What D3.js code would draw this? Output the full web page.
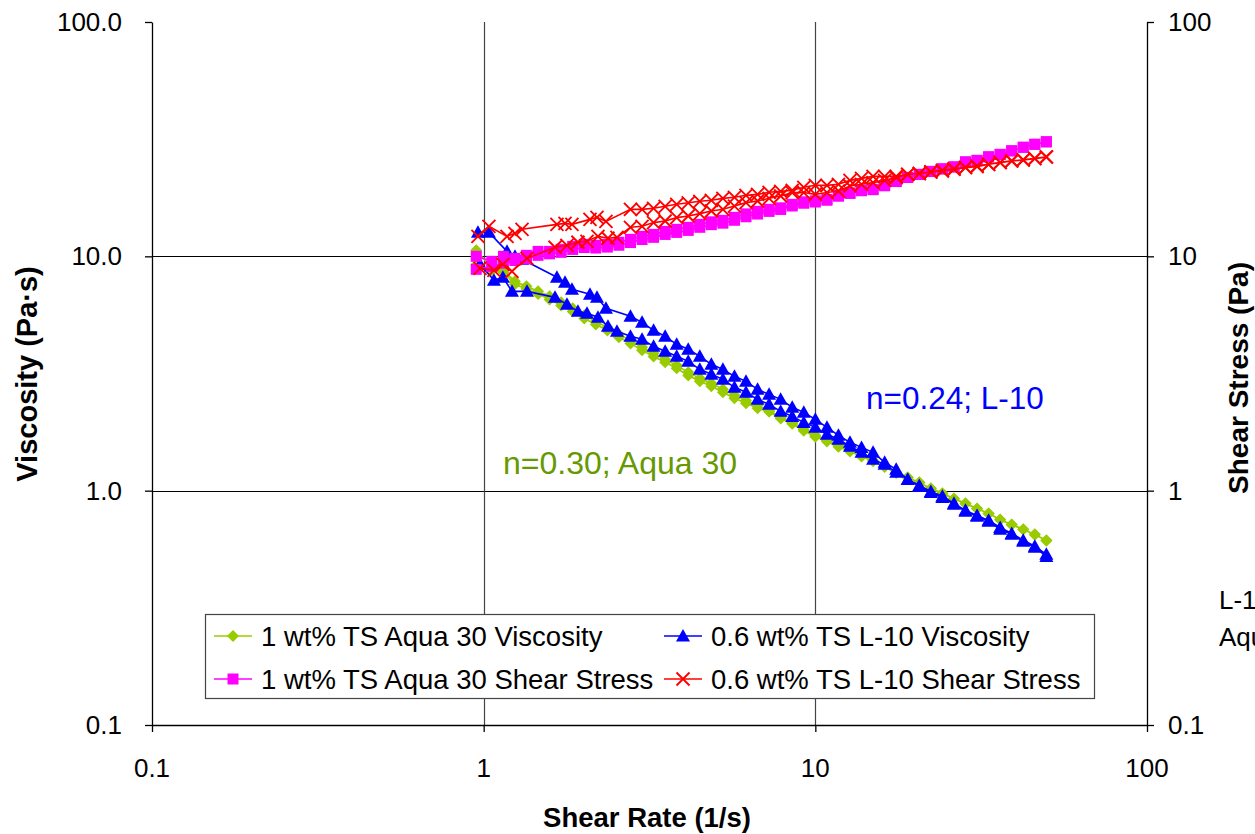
<!DOCTYPE html>
<html>
<head>
<meta charset="utf-8">
<script src="https://cdn.jsdelivr.net/npm/d3@7"></script>
<style>
  html, body { margin: 0; padding: 0; background: #fff; }
  svg { display: block; font-family: "Liberation Sans", Arial, sans-serif; }
</style>
</head>
<body>
<div id="chart"></div>
<script>
// ---- data ----
// Aqua 30: shared shear rates (1/s) for the up and the down sweep
const aquaRate = [0.95, 1.058, 1.147, 1.242, 1.346, 1.459, 1.580, 1.712, 1.855, 2.010,
  2.178, 2.360, 2.557, 2.771, 3.003, 3.253, 3.525, 3.819, 4.138, 4.484,
  4.858, 5.264, 5.704, 6.180, 6.696, 7.255, 7.861, 8.518, 9.229, 10.0,
  10.84, 11.74, 12.72, 13.78, 14.93, 16.18, 17.53, 18.99, 20.58, 22.30,
  24.16, 26.18, 28.36, 30.73, 33.30, 36.08, 39.09, 42.35, 45.89, 49.72];

const aquaViscUp = [10.61, 8.889, 8.715, 7.822, 7.447, 7.089, 6.750, 6.363, 6.001, 5.601,
  5.281, 4.977, 4.647, 4.381, 4.089, 3.855, 3.634, 3.426, 3.198, 3.015,
  2.871, 2.707, 2.552, 2.428, 2.312, 2.201, 2.055, 1.956, 1.826, 1.722,
  1.639, 1.561, 1.486, 1.415, 1.347, 1.270, 1.197, 1.140, 1.085, 1.023,
  0.974, 0.927, 0.883, 0.840, 0.800, 0.754, 0.718, 0.684, 0.651, 0.614];
const aquaViscDown = [9.20, 8.70, 8.55, 7.60, 7.25, 6.90, 6.55, 6.17, 5.82, 5.43,
  5.12, 4.83, 4.51, 4.25, 3.97, 3.74, 3.53, 3.33, 3.10, 2.93,
  2.79, 2.63, 2.48, 2.36, 2.25, 2.17, 2.03, 1.93, 1.80, 1.70,
  1.62, 1.54, 1.47, 1.40, 1.335, 1.262, 1.190, 1.134, 1.080, 1.019,
  0.970, 0.924, 0.880, 0.838, 0.798, 0.752, 0.716, 0.682, 0.649, 0.612];

const aquaStressUp = [10.0, 9.52, 10.0, 9.80, 10.10, 10.50, 10.50, 10.71, 11.03, 11.25,
  11.14, 11.25, 11.48, 11.82, 12.17, 12.41, 12.78, 13.04, 13.30, 13.69,
  14.04, 14.24, 14.67, 15.18, 15.56, 15.87, 16.11, 16.67, 17.08, 17.25,
  17.51, 18.21, 18.66, 19.13, 19.32, 20.09, 20.90, 21.74, 22.39, 23.06,
  23.63, 24.10, 25.31, 25.69, 26.59, 27.25, 28.21, 29.20, 30.07, 30.82];
const aquaStressDown = [8.80, 9.05, 9.35, 9.60, 9.75, 10.10, 10.25, 10.40, 10.70, 10.90,
  10.85, 10.95, 11.15, 11.45, 11.80, 12.05, 12.40, 12.65, 12.90, 13.30,
  13.65, 13.85, 14.25, 14.75, 15.15, 15.55, 15.85, 16.40, 16.85, 17.05,
  17.35, 18.05, 18.55, 19.05, 19.25, 20.0, 20.85, 21.70, 22.35, 23.0,
  23.6, 24.05, 25.25, 25.65, 26.55, 27.2, 28.2, 29.2, 30.05, 30.8];

// L-10: measured shear rates differ between the two sweeps at low rates
const l10RateUp = [0.961, 1.037, 1.176, 1.243, 1.305, 1.663, 1.759, 1.846, 2.092, 2.196,
  2.337, 2.771, 3.003, 3.253, 3.525, 3.819, 4.138, 4.484, 4.858, 5.264,
  5.704, 6.180, 6.696, 7.255, 7.861, 8.518, 9.229, 10.0, 10.84, 11.74,
  12.72, 13.78, 14.93, 16.18, 17.53, 18.99, 20.58, 22.30, 24.16, 26.18,
  28.36, 30.73, 33.30, 36.08, 39.09, 42.35, 45.89, 49.72];
const l10ViscUp = [12.66, 12.66, 10.50, 10.0, 9.71, 8.14, 7.745, 7.232, 6.884, 6.683,
  6.001, 5.546, 5.229, 4.833, 4.556, 4.211, 4.010, 3.743, 3.460, 3.294,
  3.075, 2.928, 2.707, 2.576, 2.453, 2.268, 2.159, 2.015, 1.863, 1.722,
  1.608, 1.530, 1.457, 1.321, 1.233, 1.117, 1.053, 0.993, 0.946, 0.883,
  0.824, 0.784, 0.747, 0.697, 0.657, 0.614, 0.579, 0.535];
const l10StressUp = [12.17, 13.43, 12.17, 12.54, 13.04, 13.69, 13.83, 13.69, 14.38, 14.67,
  14.10, 15.87, 15.87, 16.03, 16.35, 16.67, 16.92, 17.17, 17.34, 17.68,
  17.86, 18.21, 18.39, 18.76, 18.94, 19.13, 19.70, 20.09, 20.09, 20.29,
  21.10, 21.52, 21.94, 21.94, 21.94, 22.39, 22.61, 22.94, 23.28, 23.63,
  23.98, 24.33, 24.70, 25.18, 25.54, 25.82, 26.20, 26.59];

const l10RateDown = [0.975, 1.074, 1.143, 1.217, 1.351, 1.641, 1.783, 1.924, 2.049, 2.211,
  2.370, 2.523, 2.771, 3.003, 3.253, 3.525, 3.819, 4.138, 4.484, 4.858,
  5.264, 5.704, 6.180, 6.696, 7.255, 7.861, 8.518, 9.229, 10.0, 10.84,
  11.74, 12.72, 13.78, 14.93, 16.18, 17.53, 18.99, 20.58, 22.30, 24.16,
  26.18, 28.36, 30.73, 33.30, 36.08, 39.09, 42.35, 45.89, 49.72];
const l10ViscDown = [9.245, 7.90, 8.14, 7.089, 7.089, 6.683, 6.239, 5.826, 5.712, 5.492,
  5.027, 4.785, 4.556, 4.424, 4.130, 3.932, 3.743, 3.563, 3.294, 3.136,
  2.985, 2.760, 2.628, 2.453, 2.335, 2.180, 2.075, 1.956, 1.863, 1.739,
  1.656, 1.546, 1.457, 1.360, 1.295, 1.197, 1.117, 1.043, 0.983, 0.936,
  0.874, 0.816, 0.777, 0.740, 0.684, 0.651, 0.608, 0.573, 0.524];
const l10StressDown = [8.889, 8.715, 9.245, 8.630, 9.806, 10.93, 11.14, 11.48, 11.59, 12.17,
  11.94, 12.05, 13.30, 13.43, 13.93, 14.15, 14.63, 14.86, 15.21, 15.61,
  15.87, 16.39, 16.95, 17.22, 17.68, 18.09, 18.71, 18.71, 18.39, 18.71,
  19.00, 19.95, 20.29, 20.63, 21.10, 21.67, 22.39, 22.54, 22.90, 23.12,
  23.51, 23.90, 24.14, 24.70, 25.12, 25.51, 25.76, 26.12, 26.54];

const xTicks = [0.1, 1, 10, 100];
const yTicks = [0.1, 1, 10, 100];
const xTickLabels = ["0.1", "1", "10", "100"];
const yTickLabels = ["0.1", "1.0", "10.0", "100.0"];
const y2TickLabels = ["0.1", "1", "10", "100"];
const legendLabels = [
  "1 wt% TS Aqua 30 Viscosity", "0.6 wt% TS L-10 Viscosity",
  "1 wt% TS Aqua 30 Shear Stress", "0.6 wt% TS L-10 Shear Stress"
];

// ---- layout ----
const W = 1255, H = 834;
const M = { left: 152, right: 1147, top: 22, bottom: 725 };

const svg = d3.select("#chart").append("svg")
  .attr("width", W).attr("height", H)
  .attr("viewBox", `0 0 ${W} ${H}`);

const x = d3.scaleLog().domain([0.1, 100]).range([M.left, M.right]);
const y = d3.scaleLog().domain([0.1, 100]).range([M.bottom, M.top]);
const y2 = d3.scaleLog().domain([0.1, 100]).range([M.bottom, M.top]);

// gridlines
svg.append("g").selectAll("line").data([1, 10]).join("line")
  .attr("x1", M.left).attr("x2", M.right)
  .attr("y1", d => Math.round(y(d)) + 0.5).attr("y2", d => Math.round(y(d)) + 0.5)
  .attr("stroke", "#000").attr("stroke-width", 1);
svg.append("g").selectAll("line").data([1, 10]).join("line")
  .attr("y1", M.top).attr("y2", M.bottom)
  .attr("x1", d => Math.round(x(d)) + 0.5).attr("x2", d => Math.round(x(d)) + 0.5)
  .attr("stroke", "#444").attr("stroke-width", 1.2);

// axes (lines and ticks; labels drawn by hand below)
const axisStyle = g => {
  g.select(".domain").attr("stroke", "#000").attr("stroke-width", 1.3);
  g.selectAll(".tick line").attr("stroke", "#000").attr("stroke-width", 1.3);
  g.selectAll(".tick text").remove();
};
svg.append("g").attr("transform", `translate(0,${M.bottom})`)
  .call(d3.axisBottom(x).tickValues(xTicks).tickSize(7).tickSizeOuter(0).tickFormat(""))
  .call(axisStyle);
svg.append("g").attr("transform", `translate(${M.left},0)`)
  .call(d3.axisLeft(y).tickValues(yTicks).tickSize(7).tickSizeOuter(0).tickFormat(""))
  .call(axisStyle);
svg.append("g").attr("transform", `translate(${M.right},0)`)
  .call(d3.axisRight(y2).tickValues(yTicks).tickSize(7).tickSizeOuter(0).tickFormat(""))
  .call(axisStyle);

const tickFont = 26;
svg.append("g").selectAll("text").data(xTicks).join("text")
  .attr("x", d => x(d)).attr("y", 777)
  .attr("text-anchor", "middle").attr("font-size", tickFont)
  .text((d, i) => xTickLabels[i]);
svg.append("g").selectAll("text").data(yTicks).join("text")
  .attr("x", 122).attr("y", d => y(d) + 9)
  .attr("text-anchor", "end").attr("font-size", tickFont)
  .text((d, i) => yTickLabels[i]);
svg.append("g").selectAll("text").data(yTicks).join("text")
  .attr("x", 1168).attr("y", d => y2(d) + 9)
  .attr("text-anchor", "start").attr("font-size", tickFont)
  .text((d, i) => y2TickLabels[i]);

// axis titles
svg.append("text").attr("x", 647).attr("y", 827)
  .attr("text-anchor", "middle").attr("font-size", 27.5).attr("font-weight", "bold")
  .text("Shear Rate (1/s)");
svg.append("text").attr("transform", "translate(37,374) rotate(-90)")
  .attr("text-anchor", "middle").attr("font-size", 29).attr("font-weight", "bold")
  .text("Viscosity (Pa·s)");
svg.append("text").attr("transform", "translate(1248,378) rotate(-90)")
  .attr("text-anchor", "middle").attr("font-size", 28).attr("font-weight", "bold")
  .text("Shear Stress (Pa)");

// labels cut by the right edge of the picture
svg.append("text").attr("x", 1219).attr("y", 609).attr("font-size", 26).text("L-10");
svg.append("text").attr("x", 1219).attr("y", 646).attr("font-size", 26).text("Aqua 30");

// ---- series ----
const markers = {
  diamond: "M0,-6L6,0L0,6L-6,0Z",
  triangle: "M0,-7L7,5.5L-7,5.5Z",
  square: "M-5.5,-5.5H5.5V5.5H-5.5Z",
  cross: "M-6.5,-6.5L6.5,6.5M-6.5,6.5L6.5,-6.5"
};

function sweep(rateUp, valUp, rateDown, valDown) {
  const up = rateUp.map((r, i) => [r, valUp[i]]);
  const down = rateDown.map((r, i) => [r, valDown[i]]).reverse();
  return up.concat(down);
}

const series = [
  { pts: sweep(aquaRate, aquaViscUp, aquaRate, aquaViscDown), sy: y, color: "#99CC00", marker: "diamond" },
  { pts: sweep(l10RateUp, l10ViscUp, l10RateDown, l10ViscDown), sy: y, color: "#0000FF", marker: "triangle" },
  { pts: sweep(aquaRate, aquaStressUp, aquaRate, aquaStressDown), sy: y2, color: "#FF00FF", marker: "square" },
  { pts: sweep(l10RateUp, l10StressUp, l10RateDown, l10StressDown), sy: y2, color: "#FF0000", marker: "cross" }
];

series.forEach(s => {
  const g = svg.append("g");
  const line = d3.line().x(d => x(d[0])).y(d => s.sy(d[1]));
  g.append("path").attr("d", line(s.pts))
    .attr("fill", "none").attr("stroke", s.color).attr("stroke-width", 1.6);
  const m = g.selectAll(".m").data(s.pts).join("path")
    .attr("class", "m")
    .attr("transform", d => `translate(${x(d[0])},${s.sy(d[1])})`)
    .attr("d", markers[s.marker]);
  if (s.marker === "cross") m.attr("fill", "none").attr("stroke", s.color).attr("stroke-width", 1.9);
  else m.attr("fill", s.color);
});

// annotations
svg.append("text").attr("x", 503).attr("y", 474).attr("font-size", 32)
  .attr("fill", "#669900").text("n=0.30; Aqua 30");
svg.append("text").attr("x", 866).attr("y", 409).attr("font-size", 31.5)
  .attr("fill", "#0000FF").text("n=0.24; L-10");

// ---- legend ----
const leg = svg.append("g");
leg.append("rect").attr("x", 205.5).attr("y", 614.5).attr("width", 889).attr("height", 84)
  .attr("fill", "#fff").attr("stroke", "#444").attr("stroke-width", 1.2);
const legItems = [
  { col: 0, row: 0, s: series[0] }, { col: 1, row: 0, s: series[1] },
  { col: 0, row: 1, s: series[2] }, { col: 1, row: 1, s: series[3] }
];
legItems.forEach((it, i) => {
  const lx = it.col === 0 ? 214 : 664;
  const ly = 636 + it.row * 43;
  leg.append("line").attr("x1", lx).attr("x2", lx + 38).attr("y1", ly).attr("y2", ly)
    .attr("stroke", it.s.color).attr("stroke-width", 1.6);
  const mk = leg.append("path").attr("transform", `translate(${lx + 19},${ly})`)
    .attr("d", markers[it.s.marker]);
  if (it.s.marker === "cross") mk.attr("fill", "none").attr("stroke", it.s.color).attr("stroke-width", 1.9);
  else mk.attr("fill", it.s.color);
  leg.append("text").attr("x", lx + 47).attr("y", ly + 10).attr("font-size", 27.5)
    .text(legendLabels[i]);
});
</script>
</body>
</html>
